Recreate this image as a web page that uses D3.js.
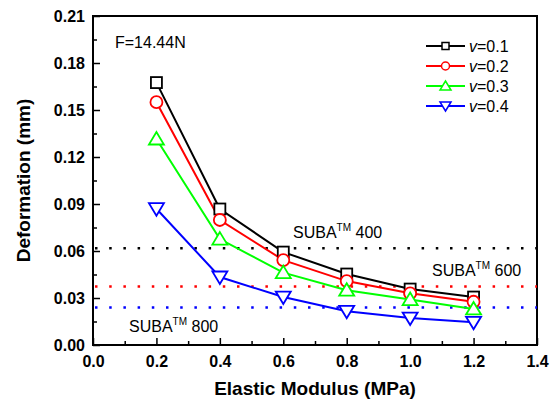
<!DOCTYPE html>
<html>
<head>
<meta charset="utf-8">
<script src="https://cdn.jsdelivr.net/npm/d3@7"></script>
<style>
  body { margin: 0; background: #fff; }
  text { font-family: Arial, "Liberation Sans", sans-serif; }
</style>
</head>
<body>
<div id="chart"></div>
<script>
var modulus = [0.2, 0.4, 0.6, 0.8, 1.0, 1.2];
var def01 = [0.1675, 0.0868, 0.0593, 0.0453, 0.0357, 0.0306];
var def02 = [0.155, 0.0798, 0.0542, 0.0408, 0.0330, 0.0276];
var def03 = [0.1315, 0.0676, 0.0462, 0.0350, 0.0290, 0.0230];
var def04 = [0.0870, 0.0434, 0.0306, 0.0215, 0.0172, 0.0145];
var seriesNames = ["0.1", "0.2", "0.3", "0.4"];
var padLevels = [0.0617, 0.0373, 0.0240];
var padNames = ["400", "600", "800"];
var xTicks = [0, 0.2, 0.4, 0.6, 0.8, 1.0, 1.2, 1.4];
var yTicks = [0, 0.03, 0.06, 0.09, 0.12, 0.15, 0.18, 0.21];

var W = 553, H = 406;
var pLeft = 93, pRight = 537, pTop = 16, pBottom = 345;

var svg = d3.select("#chart").append("svg")
  .attr("width", W)
  .attr("height", H);

var x = d3.scaleLinear().domain([0, 1.4]).range([pLeft, pRight]);
var y = d3.scaleLinear().domain([0, 0.21]).range([pBottom, pTop]);

// minor ticks (inward)
var xMinor = d3.range(0.1, 1.4, 0.2);
var yMinor = d3.range(0.015, 0.21, 0.03);

svg.append("g")
  .attr("transform", "translate(0," + pBottom + ")")
  .call(d3.axisBottom(x).tickValues(xMinor).tickSize(-4).tickFormat(""))
  .call(function(g){ g.select(".domain").remove(); g.selectAll("line").attr("stroke-width", 1.5); });

svg.append("g")
  .attr("transform", "translate(" + pLeft + ",0)")
  .call(d3.axisLeft(y).tickValues(yMinor).tickSize(-4).tickFormat(""))
  .call(function(g){ g.select(".domain").remove(); g.selectAll("line").attr("stroke-width", 1.5); });

// major ticks
var xAxis = svg.append("g")
  .attr("transform", "translate(0," + pBottom + ")")
  .call(d3.axisBottom(x).tickValues(xTicks).tickSize(-7).tickPadding(11).tickFormat(d3.format(".1f")));
xAxis.select(".domain").remove();
xAxis.selectAll("line").attr("stroke-width", 1.5);
xAxis.selectAll("text")
  .attr("font-size", 16).attr("font-weight", "bold").attr("fill", "#000")
  .attr("font-family", "Arial, 'Liberation Sans', sans-serif");

var yAxis = svg.append("g")
  .attr("transform", "translate(" + pLeft + ",0)")
  .call(d3.axisLeft(y).tickValues(yTicks).tickSize(-7).tickPadding(8).tickFormat(d3.format(".2f")));
yAxis.select(".domain").remove();
yAxis.selectAll("line").attr("stroke-width", 1.5);
yAxis.selectAll("text")
  .attr("font-size", 16).attr("font-weight", "bold").attr("fill", "#000")
  .attr("font-family", "Arial, 'Liberation Sans', sans-serif");

// frame
svg.append("rect")
  .attr("x", pLeft).attr("y", pTop)
  .attr("width", pRight - pLeft).attr("height", pBottom - pTop)
  .attr("fill", "none").attr("stroke", "#000").attr("stroke-width", 2);

// pad reference lines
var padColors = ["#000", "#ff0000", "#0000ff"];
padLevels.forEach(function(v, i){
  svg.append("line")
    .attr("x1", x(0) + 2).attr("x2", x(1.4))
    .attr("y1", y(v)).attr("y2", y(v))
    .attr("stroke", padColors[i]).attr("stroke-width", 2.5)
    .attr("stroke-dasharray", "2.5,11.7");
});

function suba(px, py, num){
  var t = svg.append("text")
    .attr("x", px).attr("y", py)
    .attr("font-size", 16).attr("fill", "#000");
  t.append("tspan").text("SUBA");
  t.append("tspan").attr("font-size", 10).attr("dy", -7).text("TM");
  t.append("tspan").attr("dy", 7).text(" " + num);
}
suba(293, 238, padNames[0]);
suba(432, 276, padNames[1]);
suba(129, 332, padNames[2]);

svg.append("text")
  .attr("x", 115).attr("y", 48)
  .attr("font-size", 16).attr("fill", "#000")
  .text("F=14.44N");

// series
var series = [def01, def02, def03, def04];
var colors = ["#000000", "#ff0000", "#00ff00", "#0000ff"];

var line = d3.line()
  .x(function(d){ return x(d[0]); })
  .y(function(d){ return y(d[1]); });

function marker(g, k, cx, cy, col){
  if (k === 0) {
    g.append("rect").attr("x", cx - 5.5).attr("y", cy - 5.5).attr("width", 11).attr("height", 11)
      .attr("fill", "#fff").attr("stroke", col).attr("stroke-width", 1.8);
  } else if (k === 1) {
    g.append("circle").attr("cx", cx).attr("cy", cy).attr("r", 6)
      .attr("fill", "#fff").attr("stroke", col).attr("stroke-width", 1.8);
  } else if (k === 2) {
    g.append("path").attr("d", "M" + cx + "," + (cy - 7) + "L" + (cx + 7.5) + "," + (cy + 5.5) + "L" + (cx - 7.5) + "," + (cy + 5.5) + "Z")
      .attr("fill", "#fff").attr("stroke", col).attr("stroke-width", 1.8);
  } else {
    g.append("path").attr("d", "M" + cx + "," + (cy + 7) + "L" + (cx + 7.5) + "," + (cy - 5.5) + "L" + (cx - 7.5) + "," + (cy - 5.5) + "Z")
      .attr("fill", "#fff").attr("stroke", col).attr("stroke-width", 1.8);
  }
}

series.forEach(function(vals, k){
  var pts = modulus.map(function(m, i){ return [m, vals[i]]; });
  svg.append("path")
    .datum(pts)
    .attr("d", line)
    .attr("fill", "none")
    .attr("stroke", colors[k])
    .attr("stroke-width", 2);
});

series.forEach(function(vals, k){
  var g = svg.append("g");
  modulus.forEach(function(m, i){
    marker(g, k, x(m), y(vals[i]), colors[k]);
  });
});

// legend
seriesNames.forEach(function(name, k){
  var ly = 46 + k * 20;
  svg.append("line")
    .attr("x1", 426).attr("x2", 465)
    .attr("y1", ly).attr("y2", ly)
    .attr("stroke", colors[k]).attr("stroke-width", 2);
  var lg = svg.append("g");
  if (k === 0) {
    lg.append("rect").attr("x", 442).attr("y", ly - 3.5).attr("width", 7).attr("height", 7)
      .attr("fill", "#fff").attr("stroke", colors[k]).attr("stroke-width", 1.5);
  } else if (k === 1) {
    lg.append("circle").attr("cx", 445.5).attr("cy", ly).attr("r", 4)
      .attr("fill", "#fff").attr("stroke", colors[k]).attr("stroke-width", 1.5);
  } else if (k === 2) {
    lg.append("path").attr("d", "M445.5," + (ly - 5) + "L451," + (ly + 4) + "L440," + (ly + 4) + "Z")
      .attr("fill", "#fff").attr("stroke", colors[k]).attr("stroke-width", 1.5);
  } else {
    lg.append("path").attr("d", "M445.5," + (ly + 5) + "L451," + (ly - 4) + "L440," + (ly - 4) + "Z")
      .attr("fill", "#fff").attr("stroke", colors[k]).attr("stroke-width", 1.5);
  }
  var t = svg.append("text")
    .attr("x", 469).attr("y", ly + 6)
    .attr("font-size", 16).attr("fill", "#000");
  t.append("tspan").attr("font-style", "italic").text("v");
  t.append("tspan").text("=" + name);
});

// axis titles
svg.append("text")
  .attr("x", (pLeft + pRight) / 2).attr("y", 395)
  .attr("text-anchor", "middle")
  .attr("font-size", 19).attr("font-weight", "bold")
  .text("Elastic Modulus (MPa)");

svg.append("text")
  .attr("transform", "translate(30," + ((pTop + pBottom) / 2) + ") rotate(-90)")
  .attr("text-anchor", "middle")
  .attr("font-size", 19).attr("font-weight", "bold")
  .text("Deformation (mm)");
</script>
</body>
</html>
